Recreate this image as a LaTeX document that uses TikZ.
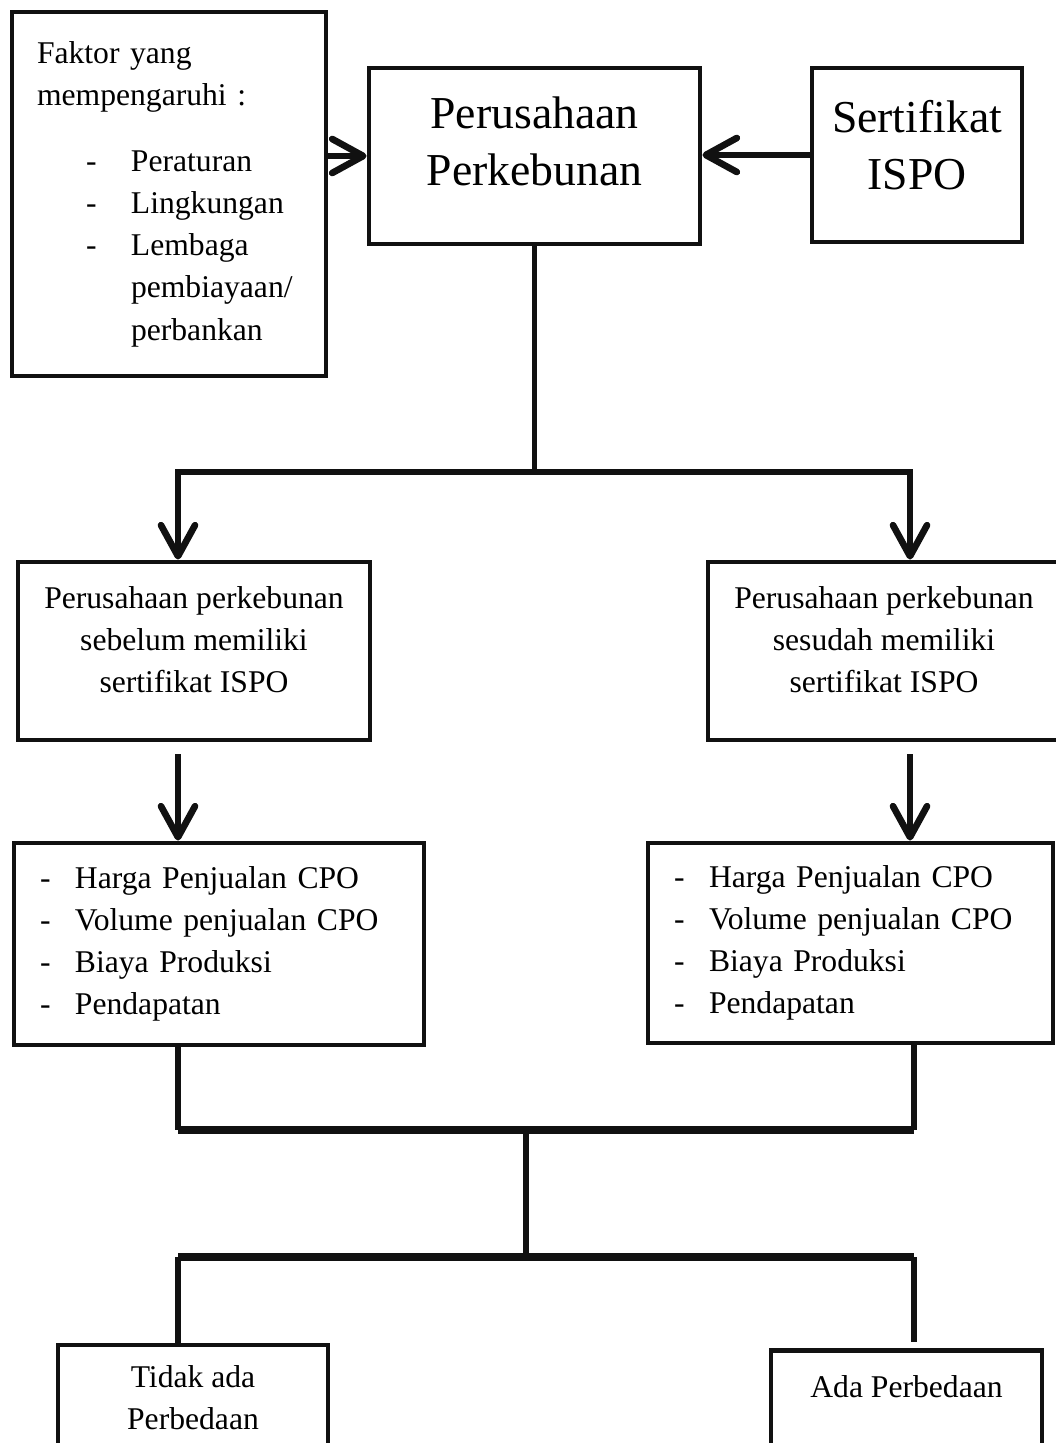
\documentclass[tikz,border=0pt]{standalone}
\usepackage{fontspec}
\setmainfont{Liberation Serif}
\usetikzlibrary{arrows.meta,positioning}
\definecolor{ink}{HTML}{111111}
\newcommand{\sml}{\fontsize{9}{12}\selectfont}
\newcommand{\bigtxt}{\fontsize{13}{16.2}\selectfont}
\newcommand{\itm}[1]{\hspace*{4.9mm}\makebox[4.5mm][l]{-}#1}
\newcommand{\lst}[1]{\makebox[3.5mm][l]{-}#1}
\tikzset{
  box/.style={draw=ink,line width=1.4pt,align=center,inner sep=0pt,font=\sml},
  txt/.style={align=center,inner sep=0pt,font=\sml},
  conn/.style={draw=ink,line width=1.5pt},
  conb/.style={draw=ink,line width=2.2pt},
  arr/.style={-{Straight Barb[length=3.1mm,width=3.4mm,round]},draw=ink,line width=1.9pt}
}
\begin{document}
\begin{tikzpicture}[x=0.1mm,y=-0.1mm]
\useasboundingbox (0,0) rectangle (1055,1443);
% top row
\node[box,minimum width=31.4mm,minimum height=36.4mm,text width=26.4mm,align=left] (fak) at (169,194)
  {Faktor yang\\mempengaruhi :\\[2.4mm]\itm{Peraturan}\\\itm{Lingkungan}\\\itm{Lembaga}\\\hspace*{9.4mm}\mbox{pembiayaan/}\\\hspace*{9.4mm}perbankan};
\node[box,minimum width=33.1mm,minimum height=17.6mm] (pp) at (534.5,156) {};
\node[txt,font=\bigtxt] (ppt) at ([yshift=1.5mm]pp.center) {Perusahaan\\Perkebunan};
\node[box,minimum width=21mm,minimum height=17.4mm] (iso) at (917,155) {};
\node[txt,font=\bigtxt] (isot) at ([yshift=1mm]iso.center) {Sertifikat\\ISPO};
% before / after
\node[box,minimum width=35.2mm,minimum height=17.8mm] (bef) at (194,651) {};
\node[txt] (beft) at ([yshift=1.1mm]bef.center) {Perusahaan perkebunan\\sebelum memiliki\\sertifikat ISPO};
\node[box,minimum width=35.2mm,minimum height=17.8mm] (aft) at (884,651) {};
\node[txt] (aftt) at ([yshift=1.1mm]aft.center) {Perusahaan perkebunan\\sesudah memiliki\\sertifikat ISPO};
\node[box,minimum width=41mm,minimum height=20.2mm,text width=35.8mm,align=left] (lsa) at (219,944)
  {\lst{Harga Penjualan CPO}\\\lst{Volume penjualan CPO}\\\lst{Biaya Produksi}\\\lst{Pendapatan}};
\node[box,minimum width=40.5mm,minimum height=20mm,text width=35.3mm,align=left] (lsb) at (850.5,943)
  {\lst{Harga Penjualan CPO}\\\lst{Volume penjualan CPO}\\\lst{Biaya Produksi}\\\lst{Pendapatan}};
% result
\node[box,minimum width=27mm,minimum height=10.6mm] (tdk) at (193,1398) {Tidak ada\\Perbedaan};
\node[box,anchor=north,minimum width=27.1mm,inner ysep=2.5mm,text depth=15mm] (ada) at (906.5,1348) {Ada Perbedaan};
% junctions
\coordinate (ja) at (178,472);
\coordinate (jb) at (910,472);
\coordinate (jm) at (pp.south |- ja);
\coordinate (ka) at (178,1130);
\coordinate (kb) at (914,1130);
\coordinate (km) at (526,1130);
\coordinate (la) at (178,1257);
\coordinate (lb) at (914,1257);
\coordinate (lm) at (526,1257);
% connectors
\draw[arr] (fak.east |- pp.west) -- (pp.west);
\draw[arr] (iso.west) -- (iso.west -| pp.east);
\draw[conn] (pp.south) -- (jm);
\draw[arr] (jm) -| (ja |- bef.north);
\draw[arr] (jm) -| (jb |- aft.north);
\draw[arr,shorten <=1.2mm] (bef.south -| ja) -- (ja |- lsa.north);
\draw[arr,shorten <=1.2mm] (aft.south -| jb) -- (jb |- lsb.north);
\draw[conn] (lsa.south -| ka) -- (ka);
\draw[conn] (lsb.south -| kb) -- (kb);
\draw[conb] (ka) -- (kb);
\draw[conn] (km) -- (lm);
\draw[conb] (la) -- (lb);
\draw[conn] (la) -- (la |- tdk.north);
\draw[conn,shorten >=0.6mm] (lb) -- (lb |- ada.north);
\end{tikzpicture}
\end{document}
